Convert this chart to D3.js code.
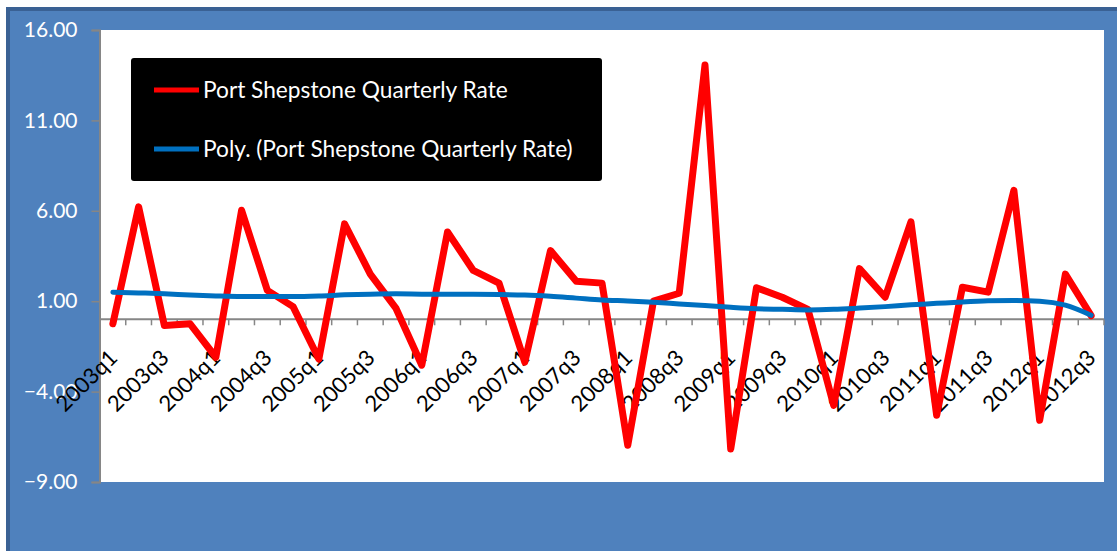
<!DOCTYPE html>
<html>
<head>
<meta charset="utf-8">
<script src="https://d3js.org/d3.v7.min.js"></script>
<style>
  body { margin: 0; background: #ffffff; }
  svg { display: block; }
</style>
</head>
<body>
<div id="chart"></div>
<script>
// Port Shepstone quarterly rate, 2003q1 - 2012q3

var quarters = ["2003q1","2003q2","2003q3","2003q4","2004q1","2004q2","2004q3","2004q4",
  "2005q1","2005q2","2005q3","2005q4","2006q1","2006q2","2006q3","2006q4",
  "2007q1","2007q2","2007q3","2007q4","2008q1","2008q2","2008q3","2008q4",
  "2009q1","2009q2","2009q3","2009q4","2010q1","2010q2","2010q3","2010q4",
  "2011q1","2011q2","2011q3","2011q4","2012q1","2012q2","2012q3"];

var rate = [-0.25, 6.22, -0.35, -0.25, -2.1, 6.03, 1.6, 0.7,
  -2.2, 5.28, 2.5, 0.6, -2.54, 4.83, 2.7, 2.0,
  -2.37, 3.8, 2.1, 2.0, -6.97, 1.0, 1.44, 14.06,
  -7.17, 1.74, 1.22, 0.55, -4.76, 2.8, 1.22, 5.39,
  -5.31, 1.77, 1.5, 7.13, -5.59, 2.5, 0.2];

// polynomial trendline
var trend = [1.50, 1.46, 1.41, 1.34, 1.29, 1.26, 1.26, 1.26,
  1.29, 1.35, 1.39, 1.41, 1.39, 1.38, 1.38, 1.37,
  1.34, 1.27, 1.17, 1.07, 1.01, 0.94, 0.85, 0.76,
  0.66, 0.58, 0.55, 0.52, 0.55, 0.62, 0.70, 0.80,
  0.88, 0.96, 1.02, 1.04, 1.00, 0.78, 0.22];

var yTicks = [-9, -4, 1, 6, 11, 16];
var seriesNames = ["Port Shepstone Quarterly Rate", "Poly. (Port Shepstone Quarterly Rate)"];
var seriesColors = ["#ff0000", "#0070c0"];

var W = 1117, H = 551;
var plot = { left: 100, right: 1104, top: 30, bottom: 482 };
var font = "Lato, 'Open Sans', sans-serif";

var svg = d3.select("#chart").append("svg")
    .attr("width", W)
    .attr("height", H);

// outer frame
svg.append("rect")
    .attr("x", 8).attr("y", 9)
    .attr("width", W + 20).attr("height", H + 20)
    .style("fill", "#4f81bd")
    .style("stroke", "#3a6194")
    .style("stroke-width", 4);

svg.append("rect")
    .attr("x", plot.left).attr("y", plot.top)
    .attr("width", plot.right - plot.left)
    .attr("height", plot.bottom - plot.top)
    .style("fill", "#ffffff");

var x = d3.scaleBand()
    .domain(quarters)
    .range([plot.left, plot.right])
    .padding(0);

var y = d3.scaleLinear()
    .domain([-9, 16])
    .range([plot.bottom, plot.top]);

var cx = function(q) { return x(q) + x.bandwidth() / 2; };

// y axis
var yAxis = svg.append("g")
    .attr("transform", "translate(" + (plot.left - 0.5) + ",0)")
    .call(d3.axisLeft(y).tickValues(yTicks).tickFormat(d3.format(".2f")).tickSize(8).tickPadding(14));

yAxis.select(".domain").style("stroke", "#868686").style("stroke-width", 2);
yAxis.selectAll(".tick line").style("stroke", "#868686").style("stroke-width", 1.5);
yAxis.selectAll(".tick text")
    .style("fill", "#ffffff")
    .style("font-family", font)
    .style("font-size", "21px");

// x axis at zero
var y0 = y(0);
svg.append("line")
    .attr("x1", plot.left).attr("x2", plot.right)
    .attr("y1", y0).attr("y2", y0)
    .style("stroke", "#868686")
    .style("stroke-width", 2);

svg.append("g").selectAll("line")
    .data(quarters)
  .enter().append("line")
    .attr("x1", function(d) { return x(d) + x.bandwidth(); })
    .attr("x2", function(d) { return x(d) + x.bandwidth(); })
    .attr("y1", y0)
    .attr("y2", y0 + 6)
    .style("stroke", "#868686")
    .style("stroke-width", 1.5);

var xAxis = svg.append("g")
    .attr("transform", "translate(0," + y0 + ")")
    .call(d3.axisBottom(x).tickValues(quarters.filter(function(d, i) { return i % 2 === 0; })).tickSize(0));

xAxis.select(".domain").remove();
xAxis.selectAll(".tick text")
    .attr("x", 0).attr("y", 0).attr("dy", 0)
    .attr("transform", "translate(6,40) rotate(-45)")
    .style("text-anchor", "end")
    .style("fill", "#000000")
    .style("font-family", font)
    .style("font-size", "22px");

// series
var line = d3.line()
    .x(function(d, i) { return cx(quarters[i]); })
    .y(function(d) { return y(d); });

svg.append("path")
    .datum(rate)
    .attr("d", line)
    .style("fill", "none")
    .style("stroke", seriesColors[0])
    .style("stroke-width", 7)
    .style("stroke-linejoin", "round")
    .style("stroke-linecap", "round");

svg.append("path")
    .datum(trend)
    .attr("d", line.curve(d3.curveMonotoneX))
    .style("fill", "none")
    .style("stroke", seriesColors[1])
    .style("stroke-width", 5)
    .style("stroke-linecap", "round");

// legend
var legend = svg.append("g");

legend.append("rect")
    .attr("x", 131).attr("y", 58)
    .attr("width", 471).attr("height", 123)
    .attr("rx", 3)
    .style("fill", "#000000");

var items = legend.selectAll(".item")
    .data(seriesNames)
  .enter().append("g")
    .attr("class", "item")
    .attr("transform", function(d, i) { return "translate(154," + (90 + i * 59) + ")"; });

items.append("line")
    .attr("x1", 0).attr("x2", 45)
    .attr("y1", 0).attr("y2", 0)
    .style("stroke", function(d, i) { return seriesColors[i]; })
    .style("stroke-width", 5);

items.append("text")
    .attr("x", 49)
    .attr("y", 0)
    .attr("dy", "0.35em")
    .style("fill", "#ffffff")
    .style("font-family", font)
    .style("font-size", "22.7px")
    .text(function(d) { return d; });
</script>
</body>
</html>
